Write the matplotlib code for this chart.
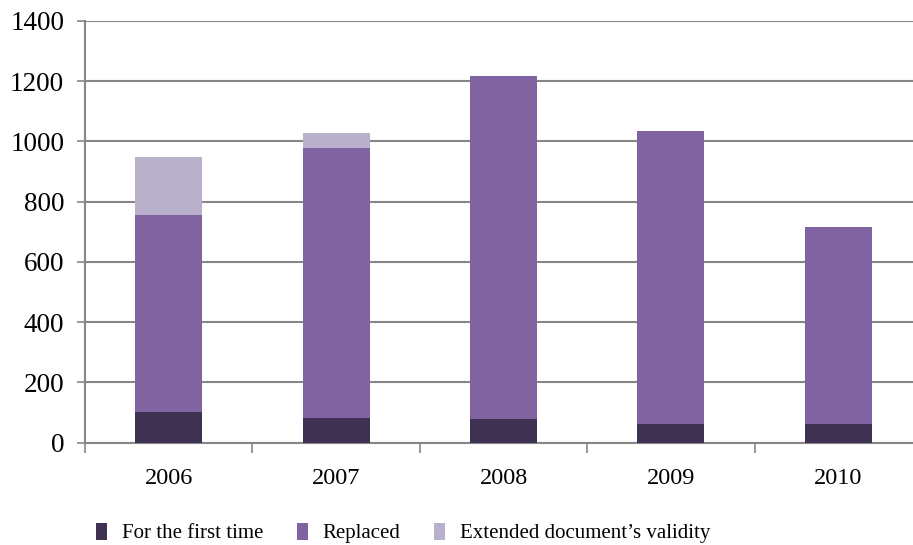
import matplotlib.pyplot as plt
from matplotlib.patches import Patch

years = ['2006', '2007', '2008', '2009', '2010']
first_time = [101, 83, 78, 62, 62]
replaced = [655, 896, 1139, 974, 653]
extended = [191, 49, 0, 0, 0]

labels = ['For the first time', 'Replaced', 'Extended document\u2019s validity']
colors = ['#3F3151', '#8064A2', '#B9B0CC']

plt.rcParams['font.family'] = ['Liberation Serif', 'DejaVu Serif']

fig = plt.figure(figsize=(9.13, 5.45), dpi=100)
ax = fig.add_axes([85 / 913, (545 - 442.7) / 545, (922 - 85) / 913, 421.7 / 545])

x = list(range(len(years)))
bottom2 = [a + b for a, b in zip(first_time, replaced)]
ax.bar(x, first_time, width=0.4, color=colors[0], zorder=3)
ax.bar(x, replaced, width=0.4, bottom=first_time, color=colors[1], zorder=3)
ax.bar(x, extended, width=0.4, bottom=bottom2, color=colors[2], zorder=3)

ax.set_xlim(-0.5, 4.5)
ax.set_ylim(0, 1400)
ax.set_yticks(range(0, 1401, 200))
ax.yaxis.grid(True, color='#868686', linewidth=1.5, zorder=0)
ax.tick_params(axis='y', length=6, width=1.2, color='#868686', labelsize=19.5, pad=9)

# category boundaries as ticks, year labels in between
ax.set_xticks([i - 0.5 for i in range(len(years) + 1)])
ax.set_xticklabels([])
ax.set_xticks(x, minor=True)
ax.set_xticklabels(years, minor=True, fontsize=17.5)
ax.tick_params(axis='x', which='major', length=7, width=1.2, color='#868686')
ax.tick_params(axis='x', which='minor', length=0, pad=18)

for s in ['top', 'right']:
    ax.spines[s].set_visible(False)
for s in ['left', 'bottom']:
    ax.spines[s].set_color('#868686')
    ax.spines[s].set_linewidth(1.5)

handles = [Patch(facecolor=c, edgecolor='none') for c in colors]
fig.legend(handles, labels, loc='center left', bbox_to_anchor=(96 / 913, (545 - 533) / 545),
           ncol=3, frameon=False, fontsize=15, handlelength=0.55, handleheight=0.9,
           handletextpad=0.7, columnspacing=1.6, borderaxespad=0, borderpad=0)

fig.savefig('out.png', dpi=100)
